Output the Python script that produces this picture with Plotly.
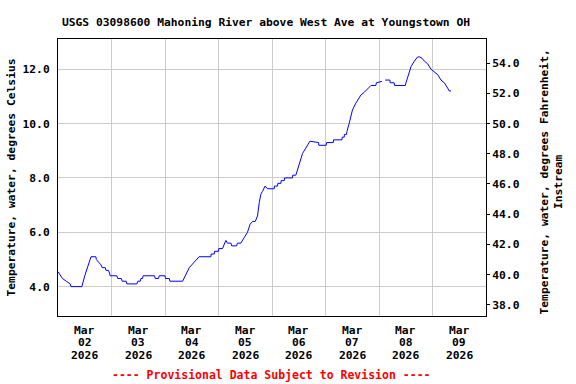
import pandas as pd
import plotly.graph_objects as go

# Hours after 2026-03-02 00:00 (local) and water temperature, deg C
hours = [0.0, 1.0, 2.0, 3.7, 5.5, 5.8, 10.7, 12.0, 13.8, 14.8, 17.0, 17.2, 18.2, 19.3, 19.8,
         21.2, 21.5, 22.6, 23.1, 23.4, 26.4, 26.8, 28.4, 28.8, 30.6, 30.9, 35.4, 35.8, 36.9,
         37.2, 37.9, 38.2, 43.3, 43.6, 45.1, 45.4, 48.0, 48.2, 49.9, 50.2, 55.9, 58.9, 61.1,
         63.3, 68.6, 68.7, 70.1, 70.2, 72.0, 72.1, 73.8, 75.3, 76.0, 77.6, 77.9, 80.1, 80.5,
         82.0, 83.5, 85.0, 86.2, 87.3, 88.5, 89.5, 90.3, 91.0, 91.7, 92.9, 94.0, 97.0, 97.1,
         98.5, 98.6, 100.0, 100.1, 101.5, 101.6, 105.2, 105.3, 106.7, 108.2, 109.7, 111.2,
         112.4, 113.0, 116.9, 117.0, 120.3, 120.5, 123.5, 123.6, 127.4, 127.5, 128.4, 128.5,
         129.4, 129.6, 130.6, 131.4, 132.1, 133.6, 134.8, 135.9, 137.4, 138.6, 140.4, 142.6,
         142.8, 145.3, 146.0, 146.8, 148.9, 149.0, 150.8, 151.0, 155.8, 156.1, 157.6, 158.4,
         159.9, 161.3, 162.3, 163.3, 164.3, 165.8, 167.3, 168.8, 170.3, 171.8, 173.3, 174.8,
         175.5, 176.3]
temp_c = [4.55, 4.4, 4.3, 4.2, 4.1, 4.0, 4.0, 4.4, 4.9, 5.1, 5.1, 5.0, 4.9, 4.8, 4.7,
          4.7, 4.6, 4.6, 4.5, 4.4, 4.4, 4.3, 4.3, 4.2, 4.2, 4.1, 4.1, 4.2, 4.2,
          4.3, 4.3, 4.4, 4.4, 4.3, 4.3, 4.4, 4.4, 4.3, 4.3, 4.2, 4.2, 4.7, 4.9,
          5.1, 5.1, 5.2, 5.2, 5.3, 5.3, 5.4, 5.4, 5.7, 5.6, 5.6, 5.5, 5.5, 5.6,
          5.6, 5.8, 6.0, 6.3, 6.4, 6.4, 6.6, 7.1, 7.4, 7.5, 7.7, 7.6, 7.6, 7.7,
          7.7, 7.8, 7.8, 7.9, 7.9, 8.0, 8.0, 8.1, 8.1, 8.5, 8.9, 9.1,
          9.3, 9.35, 9.3, 9.2, 9.2, 9.3, 9.3, 9.4, 9.4, 9.5, 9.5, 9.6,
          9.6, 9.7, 10.0, 10.3, 10.5, 10.75, 10.9, 11.05, 11.15, 11.25, 11.4, 11.4,
          11.5, 11.55, None, 11.6, 11.6, 11.5, 11.5, 11.4, 11.4, 11.5, 11.9, 12.1,
          12.3, 12.45, 12.45, 12.4, 12.3, 12.2, 12.0, 11.9, 11.8, 11.6, 11.5, 11.3,
          11.2, 11.2]

day_ticks = ["2026-03-02 12:00", "2026-03-03 12:00", "2026-03-04 12:00", "2026-03-05 12:00",
             "2026-03-06 12:00", "2026-03-07 12:00", "2026-03-08 12:00", "2026-03-09 12:00"]
month_labels = ["Mar"] * 8
day_labels = ["02", "03", "04", "05", "06", "07", "08", "09"]
year_labels = ["2026"] * 8
c_ticks = [4, 6, 8, 10, 12]
f_ticks = [38, 40, 42, 44, 46, 48, 50, 52, 54]
c_range = [2.92, 13.11]

start = pd.Timestamp("2026-03-02 00:00")
times = [start + pd.Timedelta(hours=h) for h in hours]

FONT = "DejaVu Sans Mono"
FS = 11.3
L, R, T, B = 58, 90, 39, 68
W, H = 576, 384
PW, PH = W - L - R, H - T - B


def py(pix):
    """pixel row (from top) -> paper y"""
    return (H - B - pix) / PH


fig = go.Figure()
fig.add_trace(go.Scatter(x=times, y=temp_c, mode="lines", connectgaps=False,
                         line=dict(color="#0000FF", width=1), showlegend=False,
                         hoverinfo="skip"))
fig.add_trace(go.Scatter(x=[], y=[], yaxis="y2", showlegend=False))

annotations = []
for row, (labels, ypix) in enumerate([(month_labels, 330), (day_labels, 342.7), (year_labels, 355.4)]):
    for tv, lab in zip(day_ticks, labels):
        annotations.append(dict(text="<b>%s</b>" % lab, x=tv, xref="x", y=py(ypix), yref="paper",
                                xanchor="center", yanchor="middle", showarrow=False,
                                font=dict(family=FONT, size=FS, color="black")))
annotations.append(dict(text="<b>---- Provisional Data Subject to Revision ----</b>",
                        x=(271 - L) / PW, xref="paper", y=py(375), yref="paper",
                        xanchor="center", yanchor="middle", showarrow=False,
                        font=dict(family=FONT, size=11.5, color="#FF0000")))
annotations.append(dict(text="<b>Temperature, water, degrees Celsius</b>", textangle=-90,
                        x=(11 - L) / PW, xref="paper", y=py(177.5), yref="paper",
                        xanchor="center", yanchor="middle", showarrow=False,
                        font=dict(family=FONT, size=FS, color="black")))
annotations.append(dict(text="<b>Temperature, water, degrees Fahrenheit,<br>Instream</b>",
                        textangle=-90,
                        x=(551 - L) / PW, xref="paper", y=py(182.5), yref="paper",
                        xanchor="center", yanchor="middle", showarrow=False,
                        font=dict(family=FONT, size=FS, color="black")))

fig.update_layout(
    width=W, height=H,
    margin=dict(l=L, r=R, t=T, b=B, autoexpand=False),
    paper_bgcolor="white", plot_bgcolor="white",
    font=dict(family=FONT, size=FS, color="black"),
    title=dict(text="<b>USGS 03098600 Mahoning River above West Ave at Youngstown OH</b>",
               x=(266 - L) / PW, xref="paper", xanchor="center",
               y=1 - 22.5 / H, yref="container", yanchor="middle",
               font=dict(family=FONT, size=FS, color="black")),
    xaxis=dict(range=["2026-03-02 00:00", "2026-03-10 00:00"],
               tickmode="array", tickvals=day_ticks, showticklabels=False,
               showgrid=False, ticks="", showline=True, linecolor="black", linewidth=1,
               mirror=True, zeroline=False, automargin=False,
               minor=dict(dtick=86400000, tick0="2026-03-02", showgrid=True,
                          gridcolor="#CCCCCC", gridwidth=1, ticks="")),
    yaxis=dict(range=c_range, tickmode="array", tickvals=c_ticks,
               ticktext=["<b>%.1f</b>" % v for v in c_ticks],
               showgrid=True, gridcolor="#CCCCCC", gridwidth=1, zeroline=False,
               showline=True, linecolor="black", linewidth=1, automargin=False,
               ticks="outside", ticklen=5, tickcolor="rgba(0,0,0,0)",
               tickfont=dict(family=FONT, size=FS)),
    yaxis2=dict(range=[c_range[0] * 1.8 + 32, c_range[1] * 1.8 + 32], overlaying="y",
                side="right", tickmode="array", tickvals=f_ticks,
                ticktext=["<b>%.1f</b>" % v for v in f_ticks],
                showgrid=False, zeroline=False, showline=True, linecolor="black",
                linewidth=1, ticks="outside", ticklen=3, tickcolor="black",
                automargin=False, tickfont=dict(family=FONT, size=FS)),
    annotations=annotations,
)

fig.write_html("out.html", config={"displayModeBar": False},
               post_script="document.body.style.margin='0px';")
